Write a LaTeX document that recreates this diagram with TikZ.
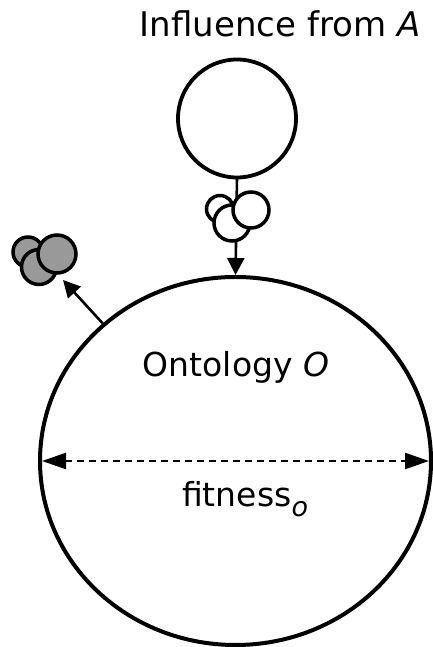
\documentclass[tikz,border=0pt]{standalone}
\usepackage{fontspec}
\setmainfont{DejaVu Sans}
\usetikzlibrary{shapes.geometric,arrows.meta}

\definecolor{particle}{HTML}{999999}

\tikzset{
  lbl/.style={font=\fontsize{33}{40}\selectfont, inner sep=0, anchor=base},
  bubble/.style={circle, draw, line width=3.5pt, fill=white, inner sep=0, outer sep=0, minimum size=#1},
  graybubble/.style={bubble=#1, fill=particle},
  link/.style={line width=2.6pt, -{Triangle[length=17pt,width=17pt]}},
  span/.style={line width=2.4pt, dash pattern=on 7pt off 5pt,
    {Triangle[length=24pt,width=16pt]}-{Triangle[length=24pt,width=16pt]}}
}

\begin{document}
\begin{tikzpicture}[x=1pt,y=1pt]
\useasboundingbox (0,0) rectangle (433,647);

% ontology and the source of influence
\node[ellipse, draw, line width=4pt, minimum width=391pt, minimum height=368pt,
      inner sep=0, outer sep=0] (onto) at (235.5,186) {};
\node[circle, draw, line width=3.8pt, minimum size=118pt, inner sep=0, outer sep=0]
      (src) at (237,528.5) {};

% influence flowing into the ontology
\draw[link, shorten >=2pt] (src.south) -- (onto.north);
\node[bubble=27pt] (w1) at (220,438) {};
\node[bubble=36pt] (w2) at (232,424) {};
\node[bubble=36pt] (w3) at (251,437) {};

% elements leaving the ontology
\coordinate (out) at (63,367);
\draw[link, shorten <=2pt] (onto.134) -- (out);
\node[graybubble=30pt] (g1) at (28,395) {};
\node[graybubble=35pt] (g2) at (39,380) {};
\node[graybubble=38pt] (g3) at (57,393) {};

% fitness span
\draw[span, shorten <=2pt, shorten >=2pt] (onto.west) -- (onto.east);

% labels
\node[lbl] (tInf) at (280,610) {\fontsize{34}{40}\selectfont Influence from \textit{A}};
\node[lbl] (tOnt) at (236,270) {Ontology \textit{O}};
\node[lbl, anchor=base west] (tFit) at (182,140)
  {fitness\raisebox{-10pt}{\fontsize{27}{30}\selectfont\itshape o}};
\end{tikzpicture}
\end{document}
